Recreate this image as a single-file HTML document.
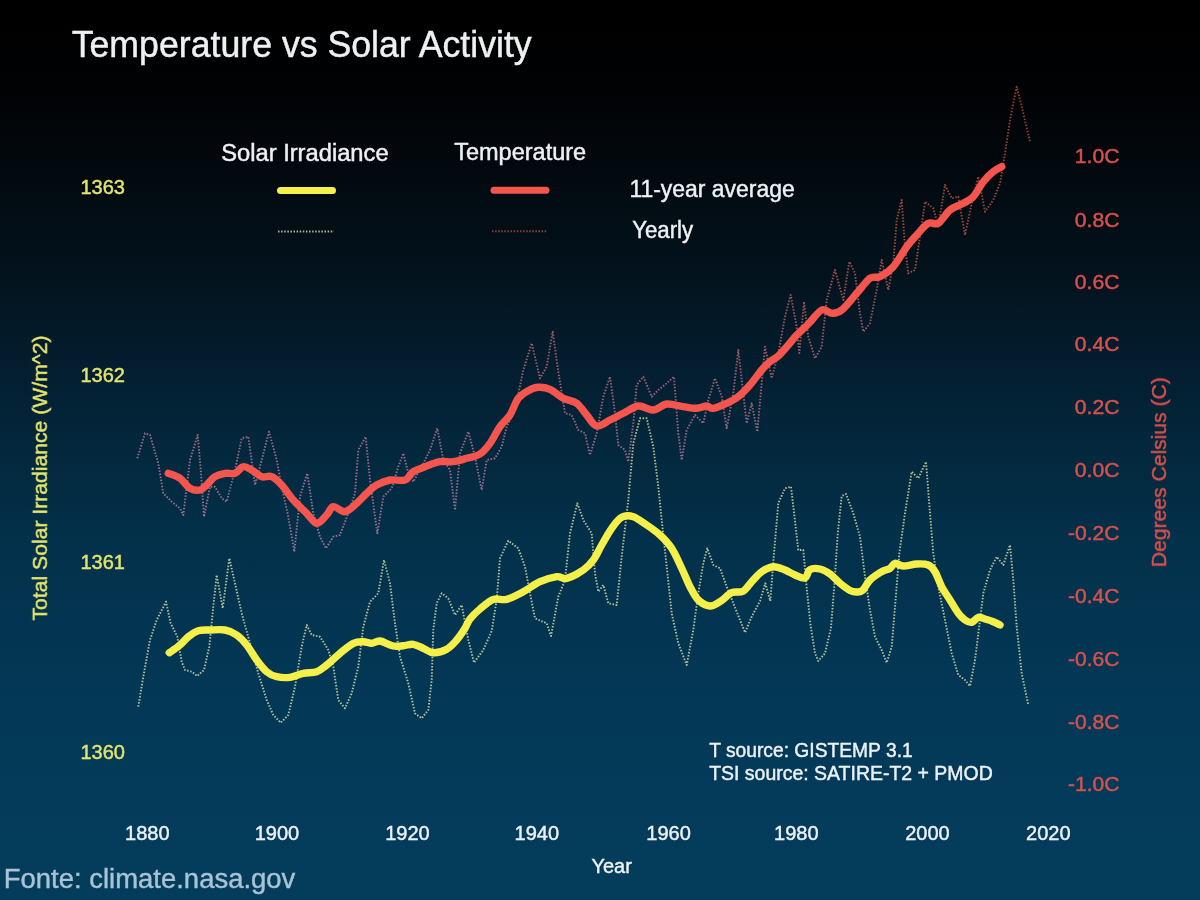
<!DOCTYPE html>
<html lang="pt"><head><meta charset="utf-8"><title>Temperature vs Solar Activity</title>
<style>
html,body{margin:0;padding:0;background:#043d5c;}
body{width:1200px;height:900px;overflow:hidden;font-family:"Liberation Sans",Arial,Helvetica,sans-serif;}
svg{display:block}
text{font-family:"Liberation Sans",Arial,Helvetica,sans-serif;}
.w{fill:#eef1f4;stroke:#eef1f4;stroke-width:.45px}
.y{fill:#e3e46c;stroke:#e3e46c;stroke-width:.45px}
.r{fill:#d8504c;stroke:#d8504c;stroke-width:.45px}
</style></head><body>
<svg width="1200" height="900" viewBox="0 0 1200 900">
<defs>
<linearGradient id="bg" x1="0" y1="0" x2="0" y2="1">
<stop offset="0" stop-color="#000000"/>
<stop offset="0.1" stop-color="#010204"/>
<stop offset="0.2" stop-color="#020a10"/>
<stop offset="0.3" stop-color="#03121c"/>
<stop offset="0.4" stop-color="#031d2e"/>
<stop offset="0.5" stop-color="#03283d"/>
<stop offset="0.6" stop-color="#03304a"/>
<stop offset="0.7" stop-color="#033552"/>
<stop offset="0.8" stop-color="#033957"/>
<stop offset="0.9" stop-color="#043b5a"/>
<stop offset="1" stop-color="#043d5c"/>
</linearGradient>
<linearGradient id="rt" gradientUnits="userSpaceOnUse" x1="0" y1="80" x2="0" y2="560">
<stop offset="0" stop-color="#9a3e32"/><stop offset="0.3" stop-color="#a24a40"/><stop offset="0.55" stop-color="#a45c68"/><stop offset="0.78" stop-color="#a46c8a"/><stop offset="1" stop-color="#a07496"/>
</linearGradient>
<filter id="soft" x="-5%" y="-5%" width="110%" height="110%"><feGaussianBlur stdDeviation="0.62"/></filter>
<filter id="soft2" x="-5%" y="-5%" width="110%" height="110%"><feGaussianBlur stdDeviation="0.4"/></filter>
</defs>
<rect width="1200" height="900" fill="url(#bg)"/>
<g filter="url(#soft2)">

<path d="M137.3 458.3 L145.0 433.3 L150.0 435.0 L158.3 463.3 L163.3 493.3 L171.7 501.7 L180.0 508.3 L183.3 515.0 L190.0 460.0 L197.7 435.0 L201.0 473.0 L204.0 516.7 L210.0 486.7 L215.0 486.7 L221.7 498.3 L226.7 501.7 L235.0 470.0 L241.7 438.3 L248.3 436.7 L255.0 485.0 L260.0 466.7 L269.0 431.7 L276.7 460.0 L281.7 486.7 L288.3 516.7 L294.3 551.7 L300.0 496.7 L307.3 473.3 L313.3 513.3 L320.0 536.7 L326.0 548.3 L333.3 536.7 L340.0 535.0 L348.3 513.3 L355.0 493.3 L358.3 450.0 L365.7 436.7 L370.0 480.0 L377.3 533.3 L383.3 496.7 L391.7 488.3 L398.3 466.7 L403.3 453.3 L408.3 473.3 L413.3 481.7 L421.7 466.7 L430.0 450.0 L437.3 428.3 L443.3 460.0 L450.0 470.0 L455.0 510.0 L460.0 453.3 L468.3 431.7 L475.0 456.7 L481.7 490.0 L486.7 460.0 L495.0 458.3 L501.7 446.7 L506.7 426.7 L515.0 410.0 L523.3 370.0 L531.7 343.3 L540.0 378.3 L546.7 366.7 L552.7 331.7 L558.3 371.7 L565.0 413.3 L571.7 415.0 L578.3 430.0 L585.0 433.3 L590.0 455.0 L596.7 433.3 L603.3 396.7 L610.0 376.7 L615.0 413.3 L618.3 445.0 L625.0 450.0 L628.3 461.7 L633.3 423.3 L636.7 385.0 L643.3 376.7 L651.7 396.7 L658.3 390.0 L666.7 383.3 L674.0 376.7 L678.3 433.3 L681.7 460.0 L686.7 430.0 L695.0 415.0 L703.3 423.3 L708.3 400.0 L715.0 378.3 L721.7 396.7 L726.7 428.3 L733.3 393.3 L738.3 350.0 L743.3 393.3 L746.7 423.3 L751.7 403.3 L757.3 431.7 L761.7 383.3 L765.0 346.7 L771.7 378.3 L778.3 353.3 L785.0 316.7 L790.7 295.0 L796.7 326.7 L799.3 353.0 L804.0 301.7 L808.3 336.7 L815.0 358.3 L821.7 346.7 L826.7 300.0 L835.0 270.0 L843.3 300.0 L849.3 261.7 L855.0 273.3 L860.0 313.3 L863.3 331.7 L870.0 323.3 L876.7 290.0 L881.7 260.0 L888.3 290.0 L893.3 263.3 L896.7 220.0 L901.7 200.0 L905.0 246.7 L908.3 273.3 L915.0 270.0 L920.0 236.7 L925.0 201.7 L933.3 208.3 L938.3 226.7 L945.0 185.0 L951.7 198.3 L958.3 196.7 L965.0 235.0 L971.7 203.3 L978.3 176.7 L985.0 211.7 L993.3 200.0 L1000.0 183.3 L1005.0 153.3 L1010.0 120.0 L1016.7 86.7 L1023.3 113.3 L1030.0 141.7" fill="none" stroke="url(#rt)" stroke-width="1.9" stroke-dasharray="1.5 1.6" stroke-linejoin="round" opacity="0.95"/>
<path d="M138.3 706.7 L143.3 676.7 L150.0 640.0 L156.7 620.0 L166.0 601.7 L170.7 623.3 L177.3 636.7 L181.7 661.7 L185.0 670.0 L191.7 671.7 L197.3 676.0 L204.0 670.0 L209.3 646.7 L213.3 606.7 L216.7 575.0 L222.7 608.3 L229.3 558.3 L235.0 583.3 L241.7 613.3 L250.0 643.3 L258.3 673.3 L266.7 700.0 L273.3 715.0 L280.7 722.7 L288.3 715.0 L295.0 686.7 L301.7 646.7 L306.7 625.0 L311.7 635.0 L320.0 636.7 L328.3 650.0 L333.3 666.7 L338.3 700.0 L345.0 708.3 L351.7 693.3 L358.3 666.7 L363.3 626.7 L370.0 601.7 L378.3 593.3 L384.0 560.0 L390.0 583.3 L395.0 623.3 L400.0 656.7 L408.3 683.3 L415.0 713.3 L421.7 718.3 L428.3 710.0 L431.7 680.0 L433.3 630.0 L436.7 603.3 L441.7 593.3 L448.3 598.3 L455.0 615.0 L461.7 605.0 L468.3 640.0 L474.0 662.7 L483.3 650.0 L491.7 631.0 L496.7 600.0 L500.0 558.3 L508.3 540.7 L518.3 548.3 L525.0 566.7 L530.0 593.3 L535.0 618.3 L546.7 623.3 L551.0 636.0 L558.3 596.7 L565.0 580.0 L570.0 533.3 L577.3 503.3 L583.3 520.0 L591.7 533.3 L595.0 573.3 L598.3 591.7 L603.3 585.0 L608.3 603.3 L616.7 605.0 L621.7 556.7 L628.3 500.0 L633.3 443.3 L640.0 418.3 L646.7 418.3 L653.3 446.7 L658.3 486.7 L661.7 520.0 L666.7 566.7 L671.7 613.3 L678.3 643.3 L686.7 665.0 L693.3 630.0 L698.3 593.3 L703.3 563.3 L707.3 548.3 L713.3 565.0 L720.0 568.3 L726.7 586.7 L733.3 603.3 L740.0 620.0 L745.0 632.5 L751.7 616.7 L760.0 601.0 L765.3 583.3 L770.3 601.0 L773.7 556.7 L778.3 503.3 L785.0 488.3 L791.0 486.7 L794.5 516.7 L798.3 550.0 L803.3 550.0 L806.7 588.0 L810.5 625.0 L815.0 653.3 L818.3 661.0 L825.0 653.3 L831.0 628.0 L834.5 583.0 L837.8 533.0 L841.7 496.0 L846.0 494.0 L853.3 513.3 L860.0 536.7 L865.0 576.7 L870.0 610.0 L875.0 636.7 L881.7 650.0 L886.7 662.7 L891.7 646.7 L895.0 606.7 L899.3 553.3 L905.0 513.3 L911.7 471.7 L918.3 478.3 L926.0 461.7 L930.0 513.3 L933.3 553.3 L938.3 586.7 L945.0 620.0 L951.7 653.3 L958.3 675.0 L965.0 680.0 L970.0 686.0 L975.0 660.0 L980.0 620.0 L983.3 593.3 L990.0 570.0 L996.7 556.7 L1003.3 565.0 L1010.0 545.0 L1013.3 580.0 L1016.7 626.7 L1021.7 673.3 L1028.3 705.0" fill="none" stroke="#f2f6b4" stroke-width="1.9" stroke-dasharray="1.5 1.6" stroke-linejoin="round" opacity="0.72"/>
<path d="M278 231.5H334" stroke="#f2f6b4" stroke-width="1.9" stroke-dasharray="1.5 1.6" opacity="0.72"/>
<path d="M492 231.3H547" stroke="#a04438" stroke-width="1.9" stroke-dasharray="1.5 1.6" opacity="0.9"/>
</g>
<g filter="url(#soft)">
<path d="M169.3 652.7 C171.1 651.4 176.8 647.7 180.0 645.0 C183.2 642.3 185.2 639.1 188.3 636.7 C191.4 634.3 194.7 631.8 198.3 630.7 C201.9 629.6 205.6 630.1 210.0 630.0 C214.4 629.9 220.6 629.2 225.0 630.0 C229.4 630.8 233.1 632.5 236.7 635.0 C240.3 637.5 243.4 640.8 246.7 645.0 C250.0 649.2 253.4 655.5 256.7 660.0 C260.0 664.5 263.4 668.9 266.7 671.7 C270.0 674.5 272.8 675.8 276.7 676.7 C280.6 677.6 285.6 677.9 290.0 677.3 C294.4 676.7 298.9 674.2 303.3 673.3 C307.8 672.4 312.8 673.1 316.7 671.7 C320.6 670.3 322.8 668.1 326.7 665.0 C330.6 661.9 335.6 656.9 340.0 653.3 C344.4 649.7 349.4 645.2 353.3 643.3 C357.2 641.4 360.2 641.7 363.3 641.7 C366.4 641.7 368.9 643.4 371.7 643.3 C374.5 643.2 376.4 640.5 380.0 641.0 C383.6 641.5 389.4 645.2 393.3 646.0 C397.2 646.8 400.0 646.0 403.3 645.7 C406.6 645.4 410.0 643.9 413.3 644.3 C416.6 644.7 420.0 646.9 423.3 648.3 C426.6 649.7 429.4 652.5 433.3 652.7 C437.2 652.9 442.8 651.4 446.7 649.3 C450.6 647.2 453.6 643.5 456.7 640.0 C459.8 636.5 462.8 631.8 465.0 628.3 C467.2 624.8 467.5 622.2 470.0 619.0 C472.5 615.8 476.1 612.2 480.0 609.0 C483.9 605.8 488.9 601.1 493.3 599.5 C497.8 597.9 501.7 600.6 506.7 599.3 C511.7 598.0 517.8 594.6 523.3 591.7 C528.8 588.8 534.4 584.2 540.0 581.7 C545.6 579.2 552.2 577.3 556.7 576.7 C561.2 576.1 562.3 579.4 566.7 578.3 C571.1 577.2 578.9 573.0 583.3 570.0 C587.7 567.0 590.2 564.2 593.3 560.0 C596.4 555.8 598.6 550.3 601.7 545.0 C604.8 539.7 608.4 532.9 611.7 528.3 C615.0 523.7 618.1 519.2 621.7 517.3 C625.3 515.4 629.1 515.4 633.3 516.7 C637.5 518.0 642.2 522.0 646.7 525.0 C651.2 528.0 655.8 531.1 660.0 535.0 C664.2 538.9 668.1 542.8 671.7 548.3 C675.3 553.8 678.7 561.9 681.7 568.3 C684.8 574.7 687.2 581.4 690.0 586.7 C692.8 592.0 695.0 596.8 698.3 600.0 C701.6 603.2 706.4 605.7 710.0 606.0 C713.6 606.3 716.4 603.9 720.0 601.7 C723.6 599.5 727.9 594.5 731.7 592.7 C735.5 591.0 739.7 593.0 743.0 591.2 C746.3 589.4 748.6 585.0 751.7 581.7 C754.8 578.5 758.1 574.2 761.7 571.7 C765.3 569.2 769.4 567.0 773.3 566.7 C777.2 566.4 781.4 568.6 785.0 570.0 C788.6 571.4 791.7 573.7 795.0 575.0 C798.3 576.3 802.5 578.9 805.0 578.0 C807.5 577.1 807.5 571.1 810.0 569.6 C812.5 568.1 816.7 568.3 820.0 569.0 C823.3 569.7 826.7 571.6 830.0 574.0 C833.3 576.4 836.7 580.5 840.0 583.3 C843.3 586.0 847.1 589.0 850.0 590.5 C852.9 592.0 855.3 592.1 857.5 592.0 C859.7 591.9 860.9 592.0 863.0 590.0 C865.1 588.0 866.9 583.0 870.0 580.0 C873.1 577.0 878.4 573.7 881.7 571.7 C885.0 569.8 887.8 569.7 890.0 568.3 C892.2 566.9 892.8 563.7 895.0 563.3 C897.2 562.9 899.7 565.9 903.3 566.0 C906.9 566.1 912.5 564.2 916.7 564.0 C920.9 563.8 925.2 563.7 928.3 565.0 C931.3 566.3 932.8 568.1 935.0 571.7 C937.2 575.3 939.2 582.0 941.7 586.7 C944.2 591.4 947.2 595.6 950.0 600.0 C952.8 604.4 955.8 610.0 958.3 613.3 C960.8 616.6 962.8 618.5 965.0 620.0 C967.2 621.5 969.5 622.8 971.7 622.3 C973.9 621.8 976.1 617.8 978.3 617.3 C980.5 616.8 982.5 618.3 985.0 619.0 C987.5 619.7 990.8 620.7 993.3 621.7 C995.8 622.7 998.9 624.5 1000.0 625.0" fill="none" stroke="#f5f048" stroke-width="7.4" stroke-linecap="round" stroke-linejoin="round"/>
<path d="M168.3 473.3 C170.2 474.1 176.4 475.8 180.0 478.3 C183.6 480.8 186.7 486.4 190.0 488.3 C193.3 490.2 197.2 490.6 200.0 490.0 C202.8 489.4 204.2 487.2 206.7 485.0 C209.2 482.8 211.9 478.6 215.0 476.7 C218.1 474.8 221.7 473.9 225.0 473.3 C228.3 472.7 231.9 474.4 235.0 473.3 C238.1 472.2 240.5 467.2 243.3 466.7 C246.1 466.1 248.6 468.3 251.7 470.0 C254.8 471.7 258.4 475.6 261.7 476.7 C265.0 477.8 268.4 475.3 271.7 476.7 C275.0 478.1 278.1 481.1 281.7 485.0 C285.3 488.9 289.1 495.3 293.3 500.0 C297.5 504.7 302.8 509.4 306.7 513.3 C310.6 517.2 313.4 523.0 316.7 523.3 C320.0 523.6 323.9 517.8 326.7 515.0 C329.5 512.2 330.2 507.2 333.3 506.7 C336.4 506.1 341.1 512.3 345.0 511.7 C348.9 511.1 353.1 506.4 356.7 503.3 C360.3 500.2 363.4 496.4 366.7 493.3 C370.0 490.2 372.8 487.2 376.7 485.0 C380.6 482.8 385.3 480.8 390.0 480.0 C394.7 479.2 401.1 481.4 405.0 480.0 C408.9 478.6 410.0 473.9 413.3 471.7 C416.6 469.5 420.6 468.4 425.0 466.7 C429.4 465.0 435.3 462.5 440.0 461.7 C444.7 460.9 448.9 462.3 453.3 461.7 C457.8 461.1 462.2 459.6 466.7 458.3 C471.1 457.0 476.1 456.5 480.0 454.0 C483.9 451.5 486.7 447.9 490.0 443.3 C493.3 438.8 496.7 431.4 500.0 426.7 C503.3 422.0 506.9 419.7 510.0 415.0 C513.0 410.3 515.2 402.4 518.3 398.3 C521.3 394.2 525.0 392.5 528.3 390.7 C531.6 388.9 534.7 387.5 538.3 387.3 C541.9 387.1 545.8 387.5 550.0 389.3 C554.2 391.1 558.8 396.0 563.3 398.3 C567.8 400.6 572.8 400.5 576.7 403.3 C580.6 406.1 583.4 411.2 586.7 415.0 C590.0 418.8 592.8 425.2 596.7 426.0 C600.6 426.8 605.6 422.1 610.0 420.0 C614.4 417.9 618.6 415.6 623.3 413.3 C628.0 411.0 633.3 406.6 638.3 406.0 C643.3 405.4 648.6 410.3 653.3 410.0 C658.0 409.7 661.7 404.6 666.7 404.0 C671.7 403.4 678.3 406.0 683.3 406.7 C688.3 407.4 692.8 408.4 696.7 408.3 C700.6 408.2 703.9 406.0 706.7 406.0 C709.5 406.0 710.0 408.8 713.3 408.3 C716.6 407.9 722.5 405.2 726.7 403.3 C730.9 401.4 734.4 399.8 738.3 396.7 C742.2 393.6 746.1 389.4 750.0 385.0 C753.9 380.6 758.4 373.9 761.7 370.0 C765.0 366.1 767.2 364.0 770.0 361.7 C772.8 359.4 775.2 358.8 778.3 356.0 C781.3 353.2 785.2 348.5 788.3 345.0 C791.4 341.5 793.4 338.5 796.7 335.0 C800.0 331.5 804.1 328.2 808.3 324.0 C812.5 319.8 817.8 311.8 821.7 310.0 C825.6 308.2 828.4 313.3 831.7 313.3 C835.0 313.3 837.5 313.3 841.7 310.0 C845.9 306.7 852.0 298.6 856.7 293.3 C861.4 288.0 866.1 281.1 870.0 278.3 C873.9 275.5 876.1 278.6 880.0 276.7 C883.9 274.8 888.8 271.7 893.3 266.7 C897.8 261.7 902.8 252.0 906.7 246.7 C910.6 241.4 913.1 238.9 916.7 235.0 C920.3 231.1 924.7 225.2 928.3 223.3 C931.9 221.4 934.7 225.5 938.3 223.3 C941.9 221.1 945.8 213.3 950.0 210.0 C954.2 206.7 959.4 205.5 963.3 203.3 C967.2 201.1 970.0 200.3 973.3 196.7 C976.6 193.1 980.0 185.9 983.3 181.7 C986.6 177.5 990.2 174.2 993.3 171.7 C996.4 169.2 1000.3 167.5 1001.7 166.7" fill="none" stroke="#f4544e" stroke-width="7.4" stroke-linecap="round" stroke-linejoin="round"/>
<path d="M280.5 190.5H332.5" stroke="#f5f048" stroke-width="7" stroke-linecap="round"/>
<path d="M494 190.3H546" stroke="#f4544e" stroke-width="7" stroke-linecap="round"/>
<text class="w" x="71.7" y="57" font-size="36" textLength="460" lengthAdjust="spacingAndGlyphs">Temperature vs Solar Activity</text>
<text class="w" x="221.2" y="160.5" font-size="23" textLength="167.4" lengthAdjust="spacingAndGlyphs">Solar Irradiance</text>
<text class="w" x="454.2" y="160.3" font-size="23" textLength="132" lengthAdjust="spacingAndGlyphs">Temperature</text>
<text class="w" x="629.4" y="197.2" font-size="23" textLength="165.3" lengthAdjust="spacingAndGlyphs">11-year average</text>
<text class="w" x="632.2" y="237.8" font-size="23" textLength="61" lengthAdjust="spacingAndGlyphs">Yearly</text>
<text class="w" x="709.2" y="757.4" font-size="20" textLength="203.5" lengthAdjust="spacingAndGlyphs">T source: GISTEMP 3.1</text>
<text class="w" x="709.2" y="780.2" font-size="20" textLength="283.5" lengthAdjust="spacingAndGlyphs">TSI source: SATIRE-T2 + PMOD</text>
<text class="w" x="147.3" y="840.3" font-size="20" text-anchor="middle">1880</text>
<text class="w" x="277.0" y="840.3" font-size="20" text-anchor="middle">1900</text>
<text class="w" x="407.5" y="840.3" font-size="20" text-anchor="middle">1920</text>
<text class="w" x="536.8" y="840.3" font-size="20" text-anchor="middle">1940</text>
<text class="w" x="668.6" y="840.3" font-size="20" text-anchor="middle">1960</text>
<text class="w" x="796.3" y="840.3" font-size="20" text-anchor="middle">1980</text>
<text class="w" x="927.5" y="840.3" font-size="20" text-anchor="middle">2000</text>
<text class="w" x="1048.3" y="840.3" font-size="20" text-anchor="middle">2020</text>
<text class="w" x="611.7" y="873" font-size="20" text-anchor="middle">Year</text>
<text class="y" x="80.5" y="193.6" font-size="20">1363</text>
<text class="y" x="80.5" y="382.0" font-size="20">1362</text>
<text class="y" x="80.5" y="569.4" font-size="20">1361</text>
<text class="y" x="80.5" y="758.8" font-size="20">1360</text>
<text class="r" x="1119.5" y="163.4" font-size="20" text-anchor="end" textLength="44.7" lengthAdjust="spacingAndGlyphs">1.0C</text>
<text class="r" x="1119.5" y="226.5" font-size="20" text-anchor="end" textLength="44.7" lengthAdjust="spacingAndGlyphs">0.8C</text>
<text class="r" x="1119.5" y="288.9" font-size="20" text-anchor="end" textLength="44.7" lengthAdjust="spacingAndGlyphs">0.6C</text>
<text class="r" x="1119.5" y="351.1" font-size="20" text-anchor="end" textLength="44.7" lengthAdjust="spacingAndGlyphs">0.4C</text>
<text class="r" x="1119.5" y="413.7" font-size="20" text-anchor="end" textLength="44.7" lengthAdjust="spacingAndGlyphs">0.2C</text>
<text class="r" x="1119.5" y="476.7" font-size="20" text-anchor="end" textLength="44.7" lengthAdjust="spacingAndGlyphs">0.0C</text>
<text class="r" x="1119.5" y="539.7" font-size="20" text-anchor="end" textLength="51.5" lengthAdjust="spacingAndGlyphs">-0.2C</text>
<text class="r" x="1119.5" y="603.1" font-size="20" text-anchor="end" textLength="51.5" lengthAdjust="spacingAndGlyphs">-0.4C</text>
<text class="r" x="1119.5" y="665.7" font-size="20" text-anchor="end" textLength="51.5" lengthAdjust="spacingAndGlyphs">-0.6C</text>
<text class="r" x="1119.5" y="728.5" font-size="20" text-anchor="end" textLength="51.5" lengthAdjust="spacingAndGlyphs">-0.8C</text>
<text class="r" x="1119.5" y="791.3" font-size="20" text-anchor="end" textLength="51.5" lengthAdjust="spacingAndGlyphs">-1.0C</text>
<text class="y" transform="translate(46.9 478) rotate(-90)" font-size="21" text-anchor="middle" textLength="285" lengthAdjust="spacingAndGlyphs">Total Solar Irradiance (W/m^2)</text>
<text class="r" transform="translate(1166 472.2) rotate(-90)" font-size="21" text-anchor="middle" textLength="190" lengthAdjust="spacingAndGlyphs">Degrees Celsius (C)</text>
<text x="3.8" y="888" font-size="27" fill="#a9c3d6" stroke="#a9c3d6" stroke-width=".4" textLength="291.5" lengthAdjust="spacingAndGlyphs">Fonte: climate.nasa.gov</text>
</g>
</svg>
</body></html>
